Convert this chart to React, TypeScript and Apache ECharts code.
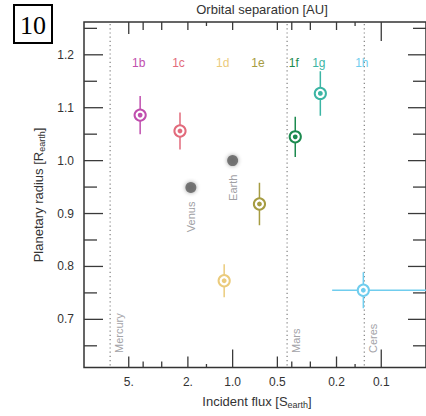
import React, { useEffect, useRef } from 'react';
import * as echarts from 'echarts';

// ---- data ----
const planetNames = ['1b', '1c', '1d', '1e', '1f', '1g', '1h'];
const planetFlux = [4.19, 2.26, 1.14, 0.66, 0.379, 0.257, 0.132];
const planetRadius = [1.086, 1.056, 0.773, 0.918, 1.045, 1.127, 0.755];
const planetRadiusErr = [0.036, 0.035, 0.031, 0.04, 0.038, 0.042, 0.034];
const planetFluxErrHigh: (number | null)[] = [null, null, null, null, null, null, 0.214];
const planetFluxErrLow: (number | null)[] = [null, null, null, null, null, null, 0.04];
const planetColors = ['#c04fae', '#e26b7c', '#ebcb7c', '#a69c42', '#1c8a4f', '#3cb5a4', '#70cdee'];

const solarNames = ['Venus', 'Earth'];
const solarFlux = [1.91, 1.0];
const solarRadius = [0.949, 1.0];

const refNames = ['Mercury', 'Mars', 'Ceres'];
const refFlux = [6.67, 0.43, 0.13];

const xTicksDecade = [1, 0.1];
const xTicksLabeled = [5, 2, 0.5, 0.2];
const xTicksMinor = [4, 3, 0.4, 0.3];
const xTicksSmall = [1.5, 0.15];
const xTickLabelValues = [5, 2, 1, 0.5, 0.2, 0.1];
const xTickLabelTexts = ['5.', '2.', '1.0', '0.5', '0.2', '0.1'];

const topTicksLong = [0.1];
const topTicksMid = [5];
const topTicksShort = [4, 3, 2, 1, 0.5, 0.4, 0.3, 0.2];
const topTicksTiny = [1.5, 0.15];

const yTicksMajor = [0.7, 0.8, 0.9, 1.0, 1.1, 1.2];
const yTicksMinor = [0.65, 0.75, 0.85, 0.95, 1.05, 1.15, 1.25];
const yTickLabelTexts = ['0.7', '0.8', '0.9', '1.0', '1.1', '1.2'];

// axis ranges
const X_MIN = 0.05;
const X_MAX = 10;
const Y_MIN = 0.609;
const Y_MAX = 1.262;
const LABEL_ROW = 1.184;

const FONT = '"Liberation Sans", Arial, Helvetica, sans-serif';
const TICK_COLOR = '#3a3a3a';

type Side = 'bottom' | 'top' | 'left' | 'right';

function tickSeries(values: number[], side: Side, len: number) {
  return {
    type: 'custom',
    silent: true,
    clip: false,
    z: 10,
    data: values.map((v) =>
      side === 'bottom' || side === 'top'
        ? [v, side === 'bottom' ? Y_MIN : Y_MAX]
        : [side === 'left' ? X_MAX : X_MIN, v]
    ),
    renderItem: (params: any, api: any) => {
      const p = api.coord([api.value(0), api.value(1)]);
      let x2 = p[0];
      let y2 = p[1];
      if (side === 'bottom') y2 -= len;
      else if (side === 'top') y2 += len;
      else if (side === 'left') x2 += len;
      else x2 -= len;
      return {
        type: 'line',
        shape: { x1: p[0], y1: p[1], x2, y2 },
        style: { stroke: TICK_COLOR, lineWidth: 1.3 },
      };
    },
  };
}

function textStyle(text: string, size: number, color: string, align: string, vAlign: string) {
  return {
    text,
    fontSize: size,
    fontFamily: FONT,
    fill: color,
    align,
    verticalAlign: vAlign,
    textAlign: align,
    textVerticalAlign: vAlign,
  };
}

export default function App() {
  const ref = useRef<HTMLDivElement>(null);

  useEffect(() => {
    document.body.style.margin = '0';
    if (!ref.current) return;
    const chart = echarts.init(ref.current, undefined, { renderer: 'svg' });

    const option: any = {
      animation: false,
      backgroundColor: '#ffffff',
      grid: {
        left: 84,
        right: -4,
        top: 22,
        bottom: 48.5,
        show: true,
        borderColor: '#333333',
        borderWidth: 1.5,
        backgroundColor: 'transparent',
      },
      xAxis: {
        type: 'log',
        logBase: 10,
        inverse: true,
        min: X_MIN,
        max: X_MAX,
        axisLine: { show: false },
        axisTick: { show: false },
        axisLabel: { show: false },
        splitLine: { show: false },
        minorTick: { show: false },
      },
      yAxis: {
        type: 'value',
        min: Y_MIN,
        max: Y_MAX,
        axisLine: { show: false },
        axisTick: { show: false },
        axisLabel: { show: false },
        splitLine: { show: false },
      },
      graphic: [
        {
          type: 'rect',
          shape: { x: 14, y: 5, width: 38, height: 38 },
          style: { fill: '#fff', stroke: '#000', lineWidth: 2 },
        },
        {
          type: 'text',
          x: 33,
          y: 25,
          style: {
            ...textStyle('10', 26, '#000', 'center', 'middle'),
            fontFamily: '"Liberation Serif", "Times New Roman", serif',
          },
        },
        {
          type: 'text',
          x: 262,
          y: 9,
          style: textStyle('Orbital separation [AU]', 13, '#333', 'center', 'middle'),
        },
        {
          type: 'text',
          x: 257,
          y: 401,
          style: {
            text: '{a|Incident flux [S}{b|earth}{a|]}',
            align: 'center',
            verticalAlign: 'middle',
            textAlign: 'center',
            textVerticalAlign: 'middle',
            rich: {
              a: { fontSize: 13, fontFamily: FONT, fill: '#333', color: '#333', lineHeight: 16 },
              b: {
                fontSize: 9,
                fontFamily: FONT,
                fill: '#333',
                color: '#333',
                lineHeight: 10,
                verticalAlign: 'bottom',
              },
            },
          },
        },
        {
          type: 'text',
          x: 38,
          y: 195,
          rotation: Math.PI / 2,
          style: {
            text: '{a|Planetary radius [R}{b|earth}{a|]}',
            align: 'center',
            verticalAlign: 'middle',
            textAlign: 'center',
            textVerticalAlign: 'middle',
            rich: {
              a: { fontSize: 13, fontFamily: FONT, fill: '#333', color: '#333', lineHeight: 16 },
              b: {
                fontSize: 9,
                fontFamily: FONT,
                fill: '#333',
                color: '#333',
                lineHeight: 10,
                verticalAlign: 'bottom',
              },
            },
          },
        },
      ],
      series: [
        // reference lines (Mercury, Mars, Ceres)
        {
          type: 'custom',
          silent: true,
          clip: false,
          z: 1,
          data: refFlux.map((f) => [f, Y_MIN]),
          renderItem: (params: any, api: any) => {
            const f = api.value(0);
            const pTop = api.coord([f, Y_MAX]);
            const pBot = api.coord([f, Y_MIN]);
            return {
              type: 'group',
              children: [
                {
                  type: 'line',
                  shape: { x1: pTop[0], y1: pTop[1] + 2, x2: pBot[0], y2: pBot[1] },
                  style: { stroke: '#8a8a8a', lineWidth: 1.3, lineDash: [1.2, 3] },
                },
                {
                  type: 'text',
                  x: pBot[0] + 8.5,
                  y: pBot[1] - 14.5,
                  rotation: Math.PI / 2,
                  style: textStyle(refNames[params.dataIndex], 11, '#a3a3a8', 'left', 'middle'),
                },
              ],
            };
          },
        },
        // Solar-system planets
        {
          type: 'scatter',
          z: 3,
          symbol: 'circle',
          symbolSize: 11,
          data: solarFlux.map((f, i) => [f, solarRadius[i]]),
          itemStyle: {
            color: '#5d5d5d',
            shadowBlur: 4,
            shadowColor: 'rgba(0,0,0,0.45)',
          },
        },
        {
          type: 'custom',
          silent: true,
          clip: false,
          z: 3,
          data: solarFlux.map((f, i) => [f, solarRadius[i]]),
          renderItem: (params: any, api: any) => {
            const p = api.coord([api.value(0), api.value(1)]);
            return {
              type: 'text',
              x: p[0],
              y: p[1] + 14,
              rotation: Math.PI / 2,
              style: textStyle(solarNames[params.dataIndex], 11, '#a0a0a4', 'right', 'middle'),
            };
          },
        },
        // TRAPPIST-1 planets with error bars
        {
          type: 'custom',
          clip: true,
          z: 4,
          data: planetFlux.map((f, i) => [f, planetRadius[i]]),
          renderItem: (params: any, api: any) => {
            const i = params.dataIndex;
            const f = api.value(0);
            const r = api.value(1);
            const c = planetColors[i];
            const p = api.coord([f, r]);
            const pHi = api.coord([f, r + planetRadiusErr[i]]);
            const pLo = api.coord([f, r - planetRadiusErr[i]]);
            const children: any[] = [
              {
                type: 'line',
                shape: { x1: p[0], y1: pHi[1], x2: p[0], y2: pLo[1] },
                style: { stroke: c, lineWidth: 1.5 },
              },
            ];
            const fh = planetFluxErrHigh[i];
            const fl = planetFluxErrLow[i];
            if (fh != null && fl != null) {
              const a = api.coord([fh, r]);
              const b = api.coord([fl, r]);
              children.push({
                type: 'line',
                shape: { x1: a[0], y1: p[1], x2: b[0], y2: p[1] },
                style: { stroke: c, lineWidth: 1.5 },
              });
            }
            children.push({
              type: 'circle',
              shape: { cx: p[0], cy: p[1], r: 5.6 },
              style: { fill: '#fff', stroke: c, lineWidth: 2 },
            });
            children.push({
              type: 'circle',
              shape: { cx: p[0], cy: p[1], r: 2.4 },
              style: { fill: c },
            });
            return { type: 'group', children };
          },
        },
        // planet name labels
        {
          type: 'custom',
          silent: true,
          clip: false,
          z: 4,
          data: planetFlux.map((f) => [f, LABEL_ROW]),
          renderItem: (params: any, api: any) => {
            const p = api.coord([api.value(0), api.value(1)]);
            return {
              type: 'text',
              x: p[0] - 1.5,
              y: p[1],
              style: textStyle(planetNames[params.dataIndex], 12, planetColors[params.dataIndex], 'center', 'middle'),
            };
          },
        },
        // x tick labels
        {
          type: 'custom',
          silent: true,
          clip: false,
          z: 10,
          data: xTickLabelValues.map((v) => [v, Y_MIN]),
          renderItem: (params: any, api: any) => {
            const p = api.coord([api.value(0), api.value(1)]);
            return {
              type: 'text',
              x: p[0],
              y: p[1] + 14.5,
              style: textStyle(xTickLabelTexts[params.dataIndex], 12, '#333', 'center', 'middle'),
            };
          },
        },
        // y tick labels
        {
          type: 'custom',
          silent: true,
          clip: false,
          z: 10,
          data: yTicksMajor.map((v) => [X_MAX, v]),
          renderItem: (params: any, api: any) => {
            const p = api.coord([api.value(0), api.value(1)]);
            return {
              type: 'text',
              x: p[0] - 10,
              y: p[1],
              style: textStyle(yTickLabelTexts[params.dataIndex], 12, '#333', 'right', 'middle'),
            };
          },
        },
        tickSeries(xTicksDecade, 'bottom', 18),
        tickSeries(xTicksLabeled, 'bottom', 11),
        tickSeries(xTicksMinor, 'bottom', 6),
        tickSeries(xTicksSmall, 'bottom', 3.5),
        tickSeries(topTicksLong, 'top', 19),
        tickSeries(topTicksMid, 'top', 12),
        tickSeries(topTicksShort, 'top', 8),
        tickSeries(topTicksTiny, 'top', 4),
        tickSeries(yTicksMajor, 'left', 19),
        tickSeries(yTicksMinor, 'left', 13),
        tickSeries(yTicksMajor, 'right', 18),
        tickSeries(yTicksMinor, 'right', 13),
      ],
    };

    chart.setOption(option);
    return () => {
      chart.dispose();
    };
  }, []);

  return <div ref={ref} style={{ width: 426, height: 416 }} />;
}
